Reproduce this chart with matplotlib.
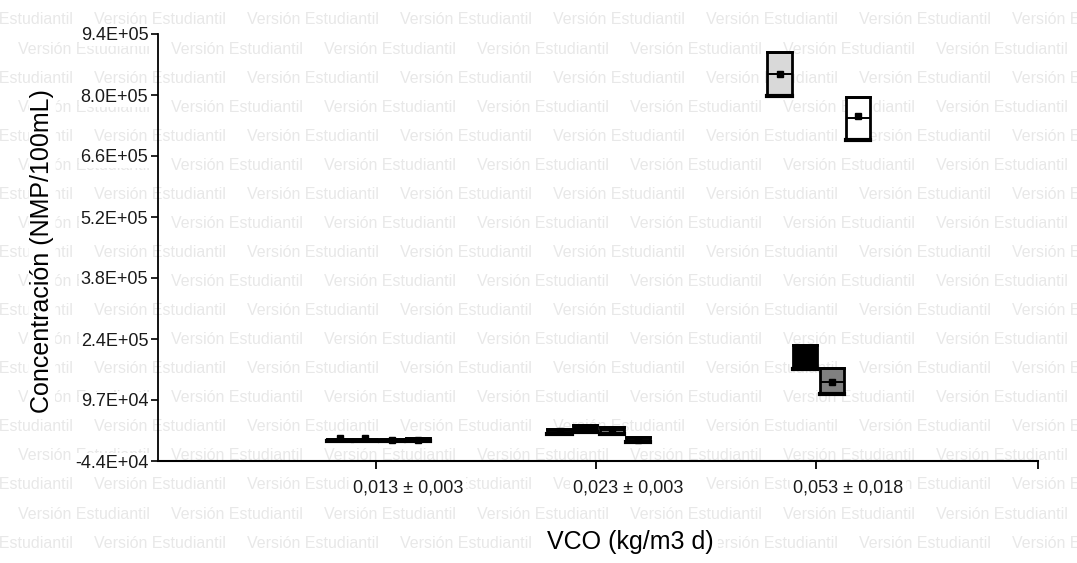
import numpy as np
import matplotlib.pyplot as plt
from matplotlib.transforms import ScaledTranslation

plt.rcParams['font.family'] = ['Liberation Sans', 'DejaVu Sans']

# organic loading rate groups (x axis)
group_labels = ['0,013 ± 0,003', '0,023 ± 0,003', '0,053 ± 0,018']
group_pos = [1, 2, 3]

# four series per group, drawn side by side
series_colors = ['#d9d9d9', '#000000', '#808080', '#ffffff']
series_offset = [-0.165, -0.05, 0.075, 0.19]

# box statistics, one row per series, one column per group (NMP/100mL)
q1_vals = [[1500, 18000, 797000],
           [1500, 23000, 168000],
           [2500, 18000, 111000],
           [1500, 0, 696000]]
med_vals = [[4000, 24000, 847000],
            [4000, 31000, 200000],
            [5500, 27000, 139000],
            [4500, 5500, 746000]]
q3_vals = [[6500, 30000, 898000],
           [6500, 39000, 223000],
           [7000, 34000, 170000],
           [8000, 11500, 795000]]
mean_vals = [[9000, 24000, 847000],
             [9000, 31000, 200000],
             [5500, 27000, 139000],
             [4500, 5500, 751000]]

y_ticks = np.linspace(-4.4e4, 9.4e5, 8)

W, H = 1077, 563
fig = plt.figure(figsize=(W / 100, H / 100), dpi=100)
ax = fig.add_axes([158 / W, 1 - 461 / H, 880 / W, 427 / H])
ax.patch.set_alpha(0)

# tiled watermark behind everything
for k in range(19):
    y_px = 20 + 29.06 * k
    x_px = -59 if k % 2 == 0 else 18
    while x_px < W:
        fig.text(x_px / W, 1 - y_px / H, 'Versión Estudiantil', ha='left', va='center',
                 fontsize=11.5, color='#e8e8e8', zorder=-5)
        x_px += 153

for s in range(4):
    stats = []
    for g in range(3):
        stats.append(dict(q1=q1_vals[s][g], med=med_vals[s][g], q3=q3_vals[s][g],
                          mean=mean_vals[s][g], whislo=q1_vals[s][g], whishi=q3_vals[s][g],
                          fliers=[]))
    pos = [p + series_offset[s] for p in group_pos]
    parts = ax.bxp(stats, positions=pos, widths=0.11, showmeans=True, patch_artist=True,
                   boxprops=dict(facecolor=series_colors[s], edgecolor='black', linewidth=2.0),
                   medianprops=dict(color='black', linewidth=1.4),
                   meanprops=dict(marker='s', markerfacecolor='black', markeredgecolor='black',
                                  markersize=4),
                   whiskerprops=dict(color='black', linewidth=1.3),
                   capprops=dict(color='black', linewidth=3.0),
                   capwidths=0.11, manage_ticks=False, zorder=3)
    # only the lower cap is drawn heavy
    for cap in parts['caps'][1::2]:
        cap.set_linewidth(2.0)

ax.set_xlim(0.01, 4.01)
ax.set_ylim(-4.4e4, 9.4e5)

ax.set_yticks(y_ticks)
ax.set_yticklabels([f'{v:.1E}' for v in y_ticks])
ax.set_xticks(group_pos)
ax.set_xticklabels(group_labels)
ax.set_xticks([4.01], minor=True)

ax.spines['top'].set_visible(False)
ax.spines['right'].set_visible(False)
ax.spines['left'].set_linewidth(1.3)
ax.spines['bottom'].set_linewidth(1.5)
ax.tick_params(axis='y', length=5, width=1.2, pad=2, labelsize=13, labelcolor='#1a1a1a')
ax.tick_params(axis='x', which='both', length=6, width=1.3, pad=7, labelsize=13, labelcolor='#1a1a1a')

wbox = dict(facecolor='white', edgecolor='none', pad=1)
for lab in ax.get_yticklabels():
    lab.set_bbox(wbox)
for lab in ax.get_xticklabels():
    lab.set_bbox(dict(facecolor='white', edgecolor='none', pad=2))
    lab.set_transform(lab.get_transform() + ScaledTranslation(0.32, 0, fig.dpi_scale_trans))

ax.set_xlabel('VCO (kg/m3 d)', fontsize=18, bbox=dict(facecolor='white', edgecolor='none', pad=3))
ax.xaxis.set_label_coords((630 - 158) / 880, (461 - 530) / 427)
ax.set_ylabel('Concentración (NMP/100mL)', fontsize=18,
              bbox=dict(facecolor='white', edgecolor='none', pad=1))
ax.yaxis.set_label_coords((54 - 158) / 880, (461 - 251) / 427)

fig.savefig('out.png', dpi=100)
